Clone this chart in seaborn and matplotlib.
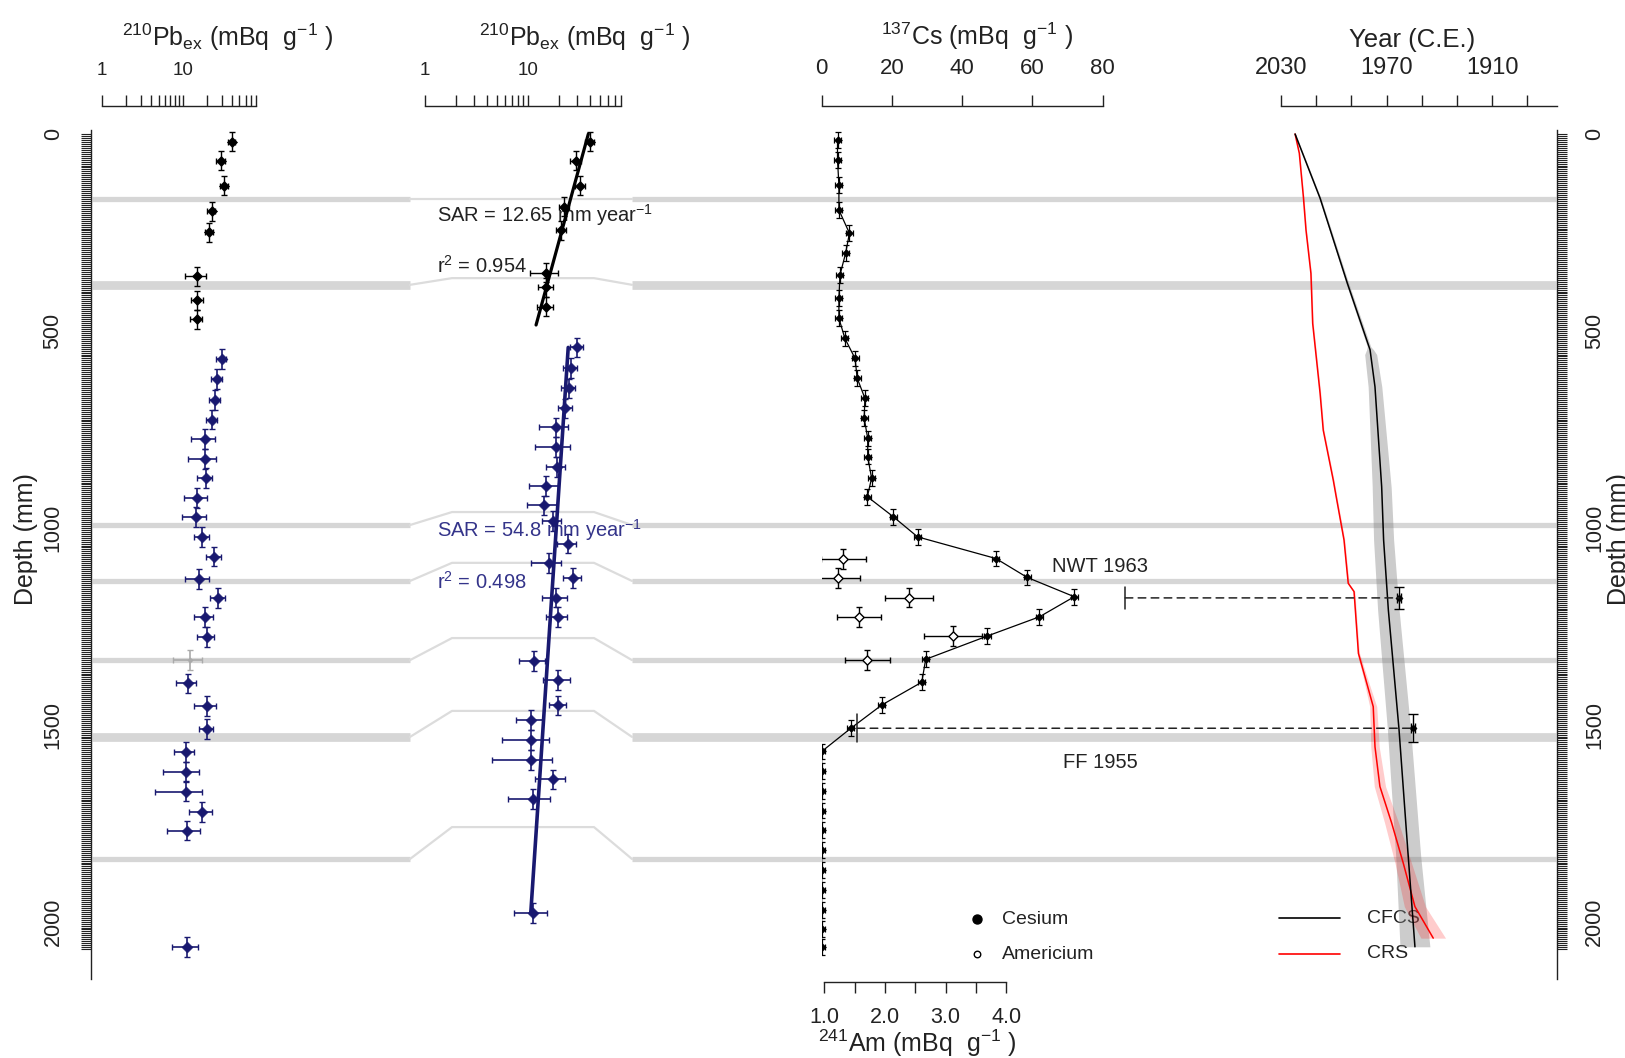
import numpy as np
import matplotlib
matplotlib.use("Agg")
import matplotlib.pyplot as plt
from matplotlib.ticker import FixedLocator, NullFormatter, FixedFormatter
from matplotlib.patches import ConnectionPatch
import seaborn as sns

sns.set_theme(style="ticks")
plt.rcParams["font.family"] = ["Liberation Sans", "DejaVu Sans"]
plt.rcParams["mathtext.fontset"] = "custom"
plt.rcParams["mathtext.rm"] = "Liberation Sans"
plt.rcParams["mathtext.it"] = "Liberation Sans:italic"
plt.rcParams["mathtext.bf"] = "Liberation Sans:bold"
plt.rcParams["text.color"] = "#222222"
plt.rcParams["ytick.alignment"] = "center"

# ---------------- data ----------------
# 210Pb excess, upper (black) section
pb_top_depth = [20, 68, 131, 196, 250, 361, 422, 471]
pb_top_depth_adj = [20, 68, 131, 185, 244, 352, 389, 439]
pb_top_val = [39.9, 29.2, 32.1, 22.6, 21.1, 15.0, 15.0, 14.8]
pb_top_err = [4.0, 3.5, 3.5, 2.5, 2.5, 4.5, 2.5, 2.5]
pb_top_derr = [24, 24, 24, 24, 24, 24, 24, 24]
pb_top_fit_range = [0, 485]

# 210Pb excess, lower (blue) section
pb_bot_depth = [572, 622, 676, 725, 775, 825, 874, 924, 973, 1024, 1073, 1130, 1178,
                1227, 1277, 1336, 1395, 1452, 1511, 1570, 1619, 1670, 1721, 1769, 2064]
pb_bot_val = [30.0, 26.1, 24.8, 23.0, 18.7, 18.7, 19.1, 15.0, 14.4, 17.3, 24.3, 15.9, 27.3,
              18.7, 19.6, 12.4, 11.4, 19.6, 19.6, 10.8, 10.8, 10.8, 17.3, 11.3, 11.3]
pb_bot_err = [4.5, 4.0, 4.0, 3.5, 6.0, 7.0, 4.0, 4.7, 4.7, 3.7, 5.2, 5.2, 5.5,
              5.0, 4.5, 4.8, 3.2, 5.7, 3.7, 3.1, 5.2, 6.3, 5.5, 4.9, 4.0]
pb_bot_derr = [25] * 25
pb_bot_used = [1] * 15 + [0] + [1] * 9
pb_bot_depth_adj = [542, 594, 646, 697, 745, 794, 845, 894, 943, 983, 1040, 1089, 1128,
                    1177, 1227, 1338, 1387, 1451, 1488, 1539, 1590, 1639, 1689, 1979]

sar_top_label = "SAR = 12.65 mm year$^{-1}$"
r2_top_label = "r$^{2}$ = 0.954"
sar_bot_label = "SAR = 54.8 mm year$^{-1}$"
r2_bot_label = "r$^{2}$ = 0.498"

# 137Cs
cs_depth = [15, 66, 130, 193, 252, 303, 358, 417, 468, 519, 570, 620, 671, 722, 773, 819,
            874, 921, 972, 1023, 1078, 1126, 1175, 1226, 1275, 1334, 1392, 1450, 1509,
            1568, 1617, 1668, 1718, 1768, 1818, 1869, 1920, 1970, 2019, 2064]
cs_val = [4.5, 4.5, 4.9, 4.9, 7.9, 6.8, 5.2, 4.9, 4.9, 6.6, 9.5, 10.1, 12.3, 12.1, 13.1, 13.1,
          14.2, 13.0, 20.4, 27.3, 49.6, 58.5, 71.9, 62.0, 47.1, 29.6, 28.5, 17.1, 8.3,
          0, 0, 0, 0, 0, 0, 0, 0, 0, 0, 0]
cs_derr = [20] * 40

# 241Am
am_depth = [1079, 1127, 1177, 1226, 1275, 1336]
am_val = [1.31, 1.23, 2.40, 1.57, 3.12, 1.71]
am_err = [0.37, 0.36, 0.40, 0.36, 0.48, 0.37]

# chronology
cfcs_depth = [0, 163, 379, 548, 642, 896, 1031, 1209, 1509, 1835, 2064]
cfcs_year = [2022.0, 2007.8, 1992.3, 1979.4, 1976.6, 1972.8, 1971.7, 1969.0, 1963.0, 1957.7, 1953.9]
cfcs_unc_depth = [0, 379, 540, 560, 900, 1209, 1509, 1835, 2064]
cfcs_unc = [0.3, 0.8, 1.0, 3.4, 5.4, 6.1, 6.6, 7.1, 8.5]

crs_depth = [0, 49, 159, 244, 354, 481, 658, 752, 879, 917, 1031, 1141, 1162, 1319,
             1378, 1454, 1556, 1657, 1750, 1852, 1962, 2042]
crs_year = [2022.0, 2019.6, 2017.3, 2015.8, 2013.0, 2012.0, 2007.8, 2006.0, 2000.3, 1998.8,
            1994.2, 1991.8, 1988.5, 1986.0, 1982.3, 1977.6, 1976.6, 1973.8, 1967.1, 1960.5,
            1953.9, 1943.5]
crs_unc_depth = [0, 1300, 1378, 1454, 1556, 1657, 1750, 1852, 1962, 2042]
crs_unc = [0.3, 0.5, 1.1, 2.0, 2.4, 3.2, 4.0, 4.7, 6.0, 7.0]

# time markers
marker_labels = ["NWT 1963", "FF 1955"]
marker_year = [1963, 1955]
marker_depth = [1178, 1509]
marker_derr = [27, 36]
marker_cs_start = [86.4, 10.1]

# core section breaks
band_depth = [165, 383, 993, 1135, 1336, 1531, 1841]
band_depth_adj = [165, 366, 960, 1089, 1280, 1465, 1760]
band_thick = [0, 1, 0, 0, 0, 1, 0]

# ---------------- figure ----------------
W, H, DPI = 1625, 1058, 100
fig = plt.figure(figsize=(W / DPI, H / DPI), dpi=DPI)
fig.patch.set_facecolor("white")

Y0, PPM = 134.0, 0.3938
D_TOP, D_BOT = -71.1, 2152.6
INK = "#222222"
NAVY = "#191970"


def py(px):
    return (px - Y0) / PPM


def d2px(d):
    return Y0 + d * PPM


ax_bg = fig.add_axes([0, 0, 1, 1])
ax_bg.set_xlim(0, W)
ax_bg.set_ylim(py(H), py(0))
ax_bg.axis("off")


def add_panel(x0, x1):
    top, bot = d2px(D_TOP), d2px(D_BOT)
    ax = fig.add_axes([x0 / W, 1 - bot / H, (x1 - x0) / W, (bot - top) / H])
    ax.set_ylim(D_BOT, D_TOP)
    ax.patch.set_alpha(0)
    for s in ax.spines.values():
        s.set_visible(False)
        s.set_color(INK)
        s.set_linewidth(1.0)
    ax.set_xlabel("")
    ax.set_ylabel("")
    return ax


# section-break bands
for d, da, th in zip(band_depth, band_depth_adj, band_thick):
    lw = 6.3 if th else 3.8
    ax_bg.plot([92, 410], [d, d], color="#d6d6d6", lw=lw, solid_capstyle="butt", zorder=0)
    ax_bg.plot([632, 1556], [d, d], color="#d6d6d6", lw=lw, solid_capstyle="butt", zorder=0)
    ax_bg.plot([410, 452, 594, 632], [d, da, da, d], color="#dcdcdc", lw=1.6, zorder=0)


def top_axis(ax, lo, hi, major, minor, labels, size):
    ax.spines["top"].set_visible(True)
    ax.spines["top"].set_bounds(lo, hi)
    ax.xaxis.tick_top()
    ax.xaxis.set_major_locator(FixedLocator(major))
    ax.xaxis.set_major_formatter(FixedFormatter(labels))
    ax.xaxis.set_minor_locator(FixedLocator(minor))
    ax.xaxis.set_minor_formatter(NullFormatter())
    ax.tick_params(axis="x", which="both", direction="out", length=8, width=1.0,
                   pad=11.5, labelsize=size, colors=INK, top=True, bottom=False,
                   labeltop=True, labelbottom=False)


def depth_axis(ax, side):
    sp = ax.spines[side]
    sp.set_visible(True)
    sp.set_bounds(-11, 2146)
    if side == "left":
        ax.yaxis.tick_left()
    else:
        ax.yaxis.tick_right()
    ax.yaxis.set_major_locator(FixedLocator([0, 500, 1000, 1500, 2000]))
    ax.yaxis.set_minor_locator(FixedLocator(np.arange(0, 2071, 5)))
    ax.yaxis.set_minor_formatter(NullFormatter())
    ax.tick_params(axis="y", which="both", direction="out", length=7.2, width=0.8,
                   pad=12.5, labelsize=15.5, colors=INK, labelrotation=90)


log_major = [1, 10]
log_minor = [2, 3, 4, 5, 6, 7, 8, 9, 20, 30, 40, 50, 60, 70, 80]

# ---- panel 1 ----
ax1 = add_panel(91, 256)
ax1.set_xscale("log")
ax1.set_xlim(10 ** (-11 / 80.9), 80)
top_axis(ax1, 1, 80, log_major, log_minor, ["1", "10"], 13.5)
depth_axis(ax1, "left")

ax1.errorbar(pb_top_val, pb_top_depth, xerr=pb_top_err, yerr=pb_top_derr, fmt="none",
             ecolor="black", elinewidth=1.0, capsize=2.5, capthick=1.0, zorder=2)
sns.scatterplot(x=pb_top_val, y=pb_top_depth, marker="D", s=26, color="black",
                edgecolor="black", linewidth=0.5, ax=ax1, zorder=3)

used = np.array(pb_bot_used, dtype=bool)
bv, bd = np.array(pb_bot_val), np.array(pb_bot_depth)
be, bde = np.array(pb_bot_err), np.array(pb_bot_derr)
ax1.errorbar(bv[used], bd[used], xerr=be[used], yerr=bde[used], fmt="none",
             ecolor=NAVY, elinewidth=1.2, capsize=2.5, capthick=1.0, zorder=2)
sns.scatterplot(x=bv[used], y=bd[used], marker="D", s=30, color=NAVY,
                edgecolor=NAVY, linewidth=0.5, ax=ax1, zorder=3)
ax1.errorbar(bv[~used], bd[~used], xerr=be[~used], yerr=bde[~used], fmt="none",
             ecolor="#aaaaaa", elinewidth=1.2, capsize=2.5, capthick=1.0, zorder=2)
sns.scatterplot(x=bv[~used], y=bd[~used], marker="D", s=8, color="#aaaaaa",
                edgecolor="#aaaaaa", ax=ax1, zorder=3)
ax1.set_ylim(D_BOT, D_TOP)
ax1.set_xlabel("")
ax1.set_ylabel("")

# ---- panel 2 ----
ax2 = add_panel(425, 621)
ax2.set_xscale("log")
ax2.set_xlim(1, 80)
top_axis(ax2, 1, 80, log_major, log_minor, ["1", "10"], 13.5)
ax2.tick_params(axis="y", left=False, right=False, labelleft=False)

coef_top = np.polyfit(pb_top_depth_adj, np.log10(pb_top_val), 1)
dd = np.array(pb_top_fit_range, dtype=float)
ax2.plot(10 ** np.polyval(coef_top, dd), dd, color="black", lw=2.3, zorder=4)
ax2.errorbar(pb_top_val, pb_top_depth_adj, xerr=pb_top_err, yerr=pb_top_derr, fmt="none",
             ecolor="black", elinewidth=1.0, capsize=2.5, capthick=1.0, zorder=2)
sns.scatterplot(x=pb_top_val, y=pb_top_depth_adj, marker="D", s=26, color="black",
                edgecolor="black", linewidth=0.5, ax=ax2, zorder=3)

bda = np.array(pb_bot_depth_adj, dtype=float)
coef_bot = np.polyfit(bda, np.log10(bv[used]), 1)
dd2 = np.array([bda.min(), bda.max()])
ax2.plot(10 ** np.polyval(coef_bot, dd2), dd2, color=NAVY, lw=2.6, zorder=4)
ax2.errorbar(bv[used], bda, xerr=be[used], yerr=bde[used], fmt="none",
             ecolor=NAVY, elinewidth=1.2, capsize=2.5, capthick=1.0, zorder=2)
sns.scatterplot(x=bv[used], y=bda, marker="D", s=30, color=NAVY,
                edgecolor=NAVY, linewidth=0.5, ax=ax2, zorder=3)
ax2.set_ylim(D_BOT, D_TOP)
ax2.set_xlabel("")
ax2.set_ylabel("")

ax_bg.text(436.7, py(215), sar_top_label, fontsize=14.5, va="center", ha="left", color=INK)
ax_bg.text(436.7, py(266), r2_top_label, fontsize=14.5, va="center", ha="left", color=INK)
ax_bg.text(436.7, py(530), sar_bot_label, fontsize=14.5, va="center", ha="left", color="#34348a")
ax_bg.text(436.7, py(582), r2_bot_label, fontsize=14.5, va="center", ha="left", color="#34348a")

# ---- panel 3 : Cs / Am ----
ax3 = add_panel(821.7, 1102.7)
ax3.set_xlim(0, 80)
ax3b = ax3.twiny()
top_axis(ax3, 0, 80, [0, 20, 40, 60, 80], [], ["0", "20", "40", "60", "80"], 16)
ax3.tick_params(axis="y", left=False, right=False, labelleft=False)
sns.lineplot(x=cs_val, y=cs_depth, sort=False, estimator=None, color="black", lw=0.9, ax=ax3)
ax3.errorbar(cs_val, cs_depth, xerr=1.0, yerr=cs_derr, fmt="none", ecolor="black",
             elinewidth=0.9, capsize=2.2, capthick=0.9, zorder=2)
sns.scatterplot(x=cs_val, y=cs_depth, marker="D", s=16, color="black", edgecolor="black",
                linewidth=0.4, ax=ax3, zorder=3)
ax3.set_ylim(D_BOT, D_TOP)
ax3.set_xlabel("")
ax3.set_ylabel("")

ax3b.patch.set_alpha(0)
for s in ax3b.spines.values():
    s.set_visible(False)
ax3b.set_xlim(0.957, 5.594)
ax3b.spines["bottom"].set_visible(True)
ax3b.spines["bottom"].set_bounds(1.0, 4.0)
ax3b.spines["bottom"].set_color(INK)
ax3b.spines["bottom"].set_linewidth(1.0)
ax3b.xaxis.set_ticks_position("bottom")
ax3b.xaxis.set_major_locator(FixedLocator([1.0, 1.5, 2.0, 2.5, 3.0, 3.5, 4.0]))
ax3b.xaxis.set_major_formatter(FixedFormatter(["1.0", "", "2.0", "", "3.0", "", "4.0"]))
ax3b.tick_params(axis="x", direction="out", length=8, width=1.0, pad=10, labelsize=15.5,
                 colors=INK, bottom=True, top=False, labelbottom=True, labeltop=False)
ax3b.errorbar(am_val, am_depth, xerr=am_err, yerr=25, fmt="none", ecolor="black",
              elinewidth=1.0, capsize=2.5, capthick=1.0, zorder=2)
sns.scatterplot(x=am_val, y=am_depth, marker="D", s=22, color="white", edgecolor="black",
                linewidth=1.0, ax=ax3b, zorder=3)
ax3b.set_ylim(D_BOT, D_TOP)
ax3b.set_xlabel("")
ax3b.set_ylabel("")

# ---- panel 4 : chronology ----
ax4 = add_panel(1281, 1556.7)
ax4.set_xlim(2030, 2030 - 275.7 / 1.76)
top_axis(ax4, 2030, 2030 - 275.7 / 1.76, [2030, 1970, 1910], [2010, 1990, 1950, 1930, 1890],
         ["2030", "1970", "1910"], 17)
depth_axis(ax4, "right")

ddc = np.union1d(cfcs_depth, cfcs_unc_depth)
yc = np.interp(ddc, cfcs_depth, cfcs_year)
uc = np.interp(ddc, cfcs_unc_depth, cfcs_unc)
ax4.fill_betweenx(ddc, yc - uc, yc + uc, color="0.5", alpha=0.4, lw=0, zorder=1)
ddr = np.union1d(crs_depth, crs_unc_depth)
yr = np.interp(ddr, crs_depth, crs_year)
ur = np.interp(ddr, crs_unc_depth, crs_unc)
ax4.fill_betweenx(ddr, yr - ur, yr + ur, color="red", alpha=0.2, lw=0, zorder=1)
sns.lineplot(x=crs_year, y=crs_depth, sort=False, estimator=None, color="red", lw=1.1, ax=ax4)
sns.lineplot(x=cfcs_year, y=cfcs_depth, sort=False, estimator=None, color="black", lw=1.1, ax=ax4)
ax4.errorbar(marker_year, marker_depth, xerr=1.0, yerr=marker_derr, fmt="none", ecolor="black",
             elinewidth=1.0, capsize=3.5, capthick=1.0, zorder=4)
sns.scatterplot(x=marker_year, y=marker_depth, marker="D", s=14, color="black",
                edgecolor="black", ax=ax4, zorder=5)
ax4.set_ylim(D_BOT, D_TOP)
ax4.set_xlabel("")
ax4.set_ylabel("")

# dashed connectors from Cs markers to dates
for xs, yrm, dm, de in zip(marker_cs_start, marker_year, marker_depth, marker_derr):
    con = ConnectionPatch(xyA=(xs, dm), coordsA="data", axesA=ax3,
                          xyB=(yrm, dm), coordsB="data", axesB=ax4,
                          linestyle=(0, (5, 3.5)), lw=1.1, color=INK)
    con.set_annotation_clip(False)
    fig.add_artist(con)
    ax3.plot([xs, xs], [dm - de, dm + de], color=INK, lw=1.1, clip_on=False)

ax_bg.text(1100, py(567), marker_labels[0], fontsize=14.5, ha="center", va="center", color=INK)
ax_bg.text(1100, py(763), marker_labels[1], fontsize=14.5, ha="center", va="center", color=INK)

# ---- legends ----
ax_bg.scatter([976.7], [py(919.3)], s=42, color="black", zorder=5)
ax_bg.scatter([976.7], [py(954)], s=22, facecolor="white", edgecolor="black", lw=1.0, zorder=5)
ax_bg.text(1001.7, py(919.3), "Cesium", fontsize=14, va="center", ha="left", color=INK)
ax_bg.text(1001.7, py(954), "Americium", fontsize=14, va="center", ha="left", color=INK)
ax_bg.plot([1279, 1340], [py(918.3), py(918.3)], color="black", lw=1.2)
ax_bg.plot([1279, 1340], [py(953.5), py(953.5)], color="red", lw=1.2)
ax_bg.text(1366.7, py(918.3), "CFCS", fontsize=14, va="center", ha="left", color=INK)
ax_bg.text(1366.7, py(953.5), "CRS", fontsize=14, va="center", ha="left", color=INK)

# ---- titles ----
pb_title = r"$\mathregular{^{210}Pb_{ex}}$ (mBq  g$\mathregular{^{-1}}$ )"
fig.text(228 / W, 1 - 37 / H, pb_title, fontsize=18, ha="center", va="center", color=INK)
fig.text(585 / W, 1 - 37 / H, pb_title, fontsize=18, ha="center", va="center", color=INK)
fig.text(977 / W, 1 - 36 / H, r"$\mathregular{^{137}}$Cs (mBq  g$\mathregular{^{-1}}$ )",
         fontsize=18, ha="center", va="center", color=INK)
fig.text(1412.5 / W, 1 - 40 / H, "Year (C.E.)", fontsize=18.5, ha="center", va="center", color=INK)
fig.text(917 / W, 1 - 1043 / H, r"$\mathregular{^{241}}$Am (mBq  g$\mathregular{^{-1}}$ )",
         fontsize=18, ha="center", va="center", color=INK)
fig.text(26 / W, 1 - 539 / H, "Depth (mm)", fontsize=18, rotation=90, ha="center", va="center", color=INK)
fig.text(1619 / W, 1 - 539 / H, "Depth (mm)", fontsize=18, rotation=90, ha="center", va="center", color=INK)

fig.savefig("out.png", dpi=DPI, facecolor="white")
